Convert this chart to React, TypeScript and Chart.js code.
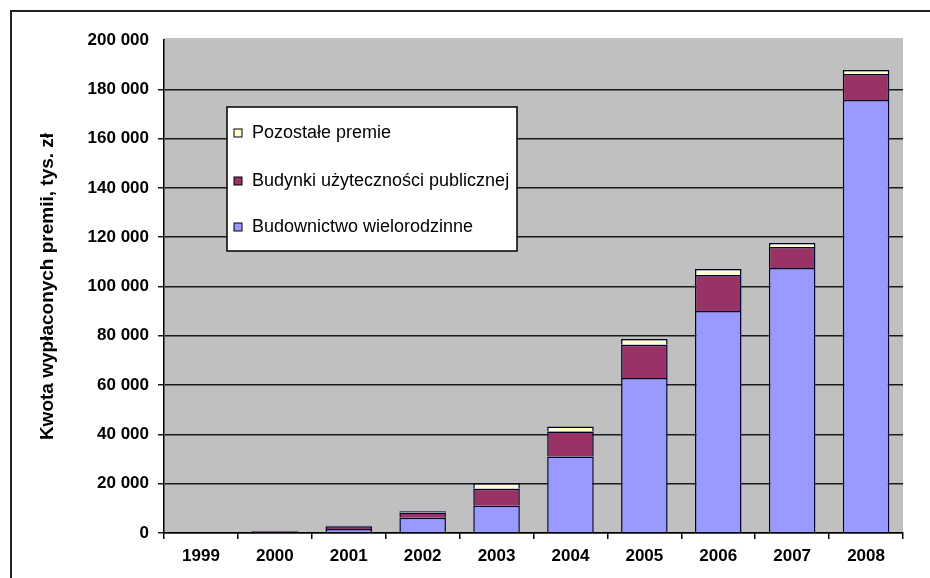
import React, { useEffect, useRef } from "react";
import { Chart, registerables } from "chart.js";

Chart.register(...registerables);

const years = ["1999", "2000", "2001", "2002", "2003", "2004", "2005", "2006", "2007", "2008"];
const wielorodzinne = [0, 300, 1600, 6200, 11100, 31000, 62900, 90100, 107500, 175700];
const publiczne = [0, 400, 1100, 2100, 6900, 10200, 13500, 14600, 8500, 10500];
const pozostale = [0, 100, 200, 500, 2200, 2000, 2300, 2400, 1600, 1600];

const seriesNames = ["Budownictwo wielorodzinne", "Budynki użyteczności publicznej", "Pozostałe premie"];
const yTitle = "Kwota wypłaconych premii, tys. zł";
const yMax = 200000;
const yStep = 20000;

const FONT = "'Liberation Sans', Arial, sans-serif";

const bgPlugin = {
  id: "plotBg",
  beforeDraw(chart: any) {
    const { ctx, chartArea } = chart;
    ctx.save();
    ctx.fillStyle = "#C0C0C0";
    ctx.fillRect(chartArea.left, chartArea.top - 2, chartArea.right - chartArea.left, chartArea.bottom - chartArea.top + 2);
    ctx.restore();
  },
};

const legendPlugin = {
  id: "boxLegend",
  afterDraw(chart: any) {
    const { ctx } = chart;
    const x = 227, y = 107, w = 290, h = 144;
    ctx.save();
    ctx.fillStyle = "#FFFFFF";
    ctx.fillRect(x, y, w, h);
    ctx.strokeStyle = "#000000";
    ctx.lineWidth = 1.5;
    ctx.strokeRect(x, y, w, h);
    const rows = [133, 181, 227];
    const ds = chart.data.datasets.slice().reverse();
    ctx.font = `18px ${FONT}`;
    ctx.textBaseline = "middle";
    ds.forEach((d: any, i: number) => {
      const cy = rows[i];
      ctx.fillStyle = d.backgroundColor;
      ctx.fillRect(x + 7, cy - 4, 8, 8);
      ctx.strokeStyle = "#000";
      ctx.lineWidth = 1;
      ctx.strokeRect(x + 7, cy - 4, 8, 8);
      ctx.fillStyle = "#000";
      ctx.fillText(d.label, x + 25, cy);
    });
    ctx.restore();
  },
};

function fmt(v: number) {
  return String(v).replace(/\B(?=(\d{3})+(?!\d))/g, " ");
}

export default function App() {
  const ref = useRef<HTMLCanvasElement | null>(null);
  useEffect(() => {
    if (!ref.current) return;
    const chart = new Chart(ref.current, {
      type: "bar",
      data: {
        labels: years,
        datasets: [
          { label: seriesNames[0], data: wielorodzinne, backgroundColor: "#9999FF", borderColor: "#000033", borderWidth: 1.5 },
          { label: seriesNames[1], data: publiczne, backgroundColor: "#993366", borderColor: "#000033", borderWidth: 1.5 },
          { label: seriesNames[2], data: pozostale, backgroundColor: "#FFFFCC", borderColor: "#000033", borderWidth: 1.5 },
        ],
      },
      options: {
        animation: false,
        responsive: true,
        maintainAspectRatio: false,
        layout: { padding: { top: 40, right: 27, left: 0, bottom: 0 } },
        plugins: { legend: { display: false }, tooltip: { enabled: false } },
        datasets: { bar: { barPercentage: 0.63, categoryPercentage: 1 } },
        scales: {
          x: {
            stacked: true,
            afterFit: (s: any) => { s.height = 45; },
            grid: { display: true, drawOnChartArea: false, offset: true, color: "#000", lineWidth: 1.5, tickLength: 6 },
            border: { display: true, color: "#000", width: 1.5 },
            ticks: { color: "#000", font: { family: FONT, size: 17, weight: "bold" }, padding: 7 },
          },
          y: {
            stacked: true,
            min: 0,
            max: yMax,
            afterFit: (s: any) => { s.width = 164; },
            grid: {
              color: (c: any) => (c.tick && c.tick.value === yMax ? "rgba(0,0,0,0)" : "#1a1a1a"),
              lineWidth: 1.5,
              tickLength: 6,
            },
            border: { display: true, color: "#000", width: 1.5 },
            ticks: {
              stepSize: yStep,
              color: "#000",
              font: { family: FONT, size: 17, weight: "bold" },
              padding: 9,
              callback: (v: any) => fmt(Number(v)),
            },
            title: {
              display: true,
              text: yTitle,
              color: "#000",
              font: { family: FONT, size: 19, weight: "bold" },
              padding: { top: 36, bottom: 0 },
            },
          },
        },
      },
      plugins: [bgPlugin, legendPlugin],
    });
    return () => chart.destroy();
  }, []);
  return (
    <div style={{ position: "fixed", left: 0, top: 0, width: 930, height: 578, background: "#fff" }}>
      <div style={{ position: "absolute", left: 10, top: 10, right: -4, bottom: -4, borderTop: "2px solid #222", borderLeft: "2px solid #222" }} />
      <canvas ref={ref} />
    </div>
  );
}
